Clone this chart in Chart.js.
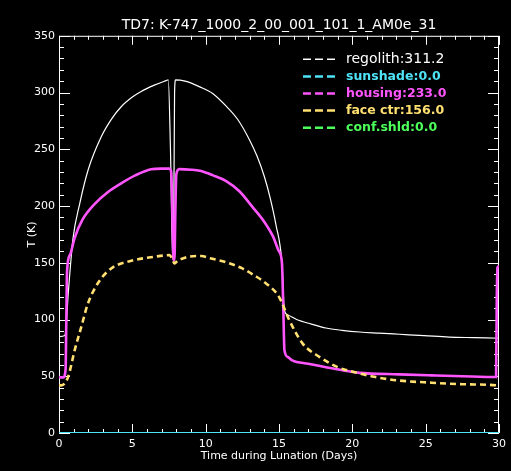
<!DOCTYPE html>
<html lang="en">
  <head>
    <meta charset="UTF-8" />
    <title>TD7 lunation temperatures</title>
    <style>
      html, body { margin: 0; padding: 0; background: #000; }
      #wrap { width: 511px; height: 471px; }
    </style>
  </head>
  <body>
    <div id="wrap">
      <canvas id="myChart"></canvas>
    </div>

    <script src="https://cdn.jsdelivr.net/npm/chart.js@4"></script>
    <script>
      // values (days, kelvin)
      const regolithDays = [0, 0.4, 0.5, 0.63, 0.74, 0.95, 1.41, 1.99, 2.88, 3.6, 4.24, 5.0, 5.6, 6.5, 7.3, 7.45, 7.6, 7.75, 7.82, 7.88, 7.95, 8.6, 9.6, 10.5, 11.4, 12.2, 13.0, 13.5, 14.0, 14.4, 14.8, 15.2, 15.37, 15.6, 16.2, 17.2, 18.2, 19.3, 20.5, 21.8, 23.2, 24.9, 26.6, 28.3, 30];
      const regolithTemps = [85, 86, 97, 123, 141, 171, 202, 232, 261, 277, 287.5, 296, 301, 306.5, 310.5, 311.2, 250, 153, 180, 300, 311.2, 310, 305, 299, 288, 276, 258, 244, 226, 207, 183, 150, 108, 104, 100, 96, 92.5, 90.5, 89, 88, 87, 85.8, 84.5, 84, 83.5];

      const housingDays = [0, 0.3, 0.45, 0.5, 0.55, 0.75, 1.07, 1.6, 2.44, 3.3, 4.24, 5.2, 6.28, 7.0, 7.5, 7.65, 7.72, 7.8, 7.87, 7.94, 8.0, 8.2, 9.0, 9.6, 10.5, 11.4, 12.3, 13.2, 14.0, 14.6, 15.0, 15.2, 15.3, 15.37, 15.6, 15.9, 17.0, 18.2, 19.4, 20.5, 23.2, 25.4, 27.5, 29.8, 29.85, 29.9, 30];
      const housingTemps = [49, 49, 56, 100, 143, 157, 172, 188, 202, 212, 220, 227, 232.4, 233, 233, 230, 200, 155, 152, 200, 228, 232.5, 232, 231, 227, 222, 213, 199, 186, 173, 160, 150, 106, 73, 67, 64, 61, 58, 55, 53, 51.7, 50.8, 50, 49.3, 120, 146, 147];

      const faceDays = [0, 0.16, 0.61, 1.07, 1.52, 1.97, 2.65, 3.56, 4.93, 6.51, 7.53, 7.7, 7.87, 8.1, 8.44, 8.9, 9.7, 10.3, 11.4, 12.5, 13.3, 14.1, 15.0, 15.7, 16.6, 17.8, 19.0, 20.5, 21.5, 23.0, 25.4, 27.5, 29.8, 30];
      const faceTemps = [42, 42, 49, 73, 93.5, 114, 132, 145, 151.7, 155.3, 156.7, 154, 149.4, 152, 153.8, 155.5, 156, 154, 150.5, 145, 139, 132, 120, 99.5, 79, 66.7, 58, 52.5, 49.5, 46.5, 44.3, 43, 42, 41.5];

      const sunshadeDays = [0, 30];
      const sunshadeTemps = [0, 0];
      const confDays = [0, 30];
      const confTemps = [0, 0];

      const legendLabels = ["regolith:311.2", "sunshade:0.0", "housing:233.0", "face ctr:156.0", "conf.shld:0.0"];
      const chartTitle = "TD7: K-747_1000_2_00_001_101_1_AM0e_31";

      const pts = (xs, ys) => xs.map((x, i) => ({ x: x, y: ys[i] }));

      // IDL style box with ticks pointing inwards
      const boxTicks = {
        id: "boxTicks",
        beforeDatasetsDraw(chart) {
          const { ctx, chartArea: a, scales } = chart;
          ctx.save();
          ctx.strokeStyle = "#fff";
          ctx.lineWidth = 1;
          ctx.strokeRect(a.left + 0.5, a.top + 0.5, a.right - a.left - 1, a.bottom - a.top - 1);
          ctx.beginPath();
          for (let v = 0; v <= 30; v++) {
            const px = Math.round(scales.x.getPixelForValue(v)) + 0.5;
            const len = v % 5 === 0 ? 9 : 4;
            ctx.moveTo(px, a.bottom); ctx.lineTo(px, a.bottom - len);
            ctx.moveTo(px, a.top); ctx.lineTo(px, a.top + len);
          }
          for (let v = 0; v <= 350; v += 10) {
            const py = Math.round(scales.y.getPixelForValue(v)) + 0.5;
            const len = v % 50 === 0 ? 11 : 5;
            ctx.moveTo(a.left, py); ctx.lineTo(a.left + len, py);
            ctx.moveTo(a.right, py); ctx.lineTo(a.right - len, py);
          }
          ctx.stroke();
          ctx.restore();
        },
      };

      // legend drawn inside the plot, top right
      const insideLegend = {
        id: "insideLegend",
        afterDraw(chart) {
          const { ctx, chartArea: a } = chart;
          const x0 = a.right - 196;
          const y0 = a.top + 23.5;
          ctx.save();
          ctx.textBaseline = "middle";
          chart.data.datasets.forEach((ds, i) => {
            const y = y0 + i * 17.1;
            ctx.strokeStyle = ds.borderColor;
            ctx.lineWidth = i === 0 ? 1.5 : 2.5;
            ctx.setLineDash([8, 4]);
            ctx.beginPath();
            ctx.moveTo(x0, y); ctx.lineTo(x0 + 32, y);
            ctx.stroke();
            ctx.setLineDash([]);
            ctx.fillStyle = ds.borderColor;
            ctx.font = i === 0 ? "14px 'DejaVu Sans'" : "bold 12.5px 'DejaVu Sans'";
            ctx.fillText(legendLabels[i], x0 + 43, y);
          });
          ctx.restore();
        },
      };

      const ctx = document.getElementById("myChart");

      const myChart = new Chart(ctx, {
        type: "line",
        data: {
          datasets: [
            { label: "regolith", data: pts(regolithDays, regolithTemps), borderColor: "#ffffff", borderWidth: 1.2, order: 5 },
            { label: "sunshade", data: pts(sunshadeDays, sunshadeTemps), borderColor: "#4fe3f7", borderWidth: 2, order: 1 },
            { label: "housing", data: pts(housingDays, housingTemps), borderColor: "#ff55ff", borderWidth: 2.6, order: 3 },
            { label: "face ctr", data: pts(faceDays, faceTemps), borderColor: "#ffe070", borderWidth: 2.6, borderDash: [6, 4], order: 2 },
            { label: "conf.shld", data: pts(confDays, confTemps), borderColor: "#4cff5a", borderWidth: 2, order: 4 },
          ],
        },
        options: {
          responsive: true,
          maintainAspectRatio: false,
          animation: false,
          events: [],
          layout: { padding: { left: 0, right: 11, top: 0, bottom: 0 } },
          elements: {
            point: { radius: 0 },
            line: { cubicInterpolationMode: "monotone", fill: false },
          },
          plugins: {
            legend: { display: false },
            tooltip: { enabled: false },
            title: {
              display: true,
              text: chartTitle,
              color: "#fff",
              fullSize: false,
              font: { family: "'DejaVu Sans'", size: 14, weight: "normal" },
              padding: { top: 17, bottom: 2 },
            },
          },
          scales: {
            x: {
              type: "linear",
              min: 0,
              max: 30,
              grid: { display: false, drawTicks: false },
              border: { display: false },
              ticks: { stepSize: 5, color: "#fff", padding: 5, maxRotation: 0, font: { family: "'DejaVu Sans'", size: 11 } },
              title: {
                display: true,
                text: "Time during Lunation (Days)",
                color: "#fff",
                font: { family: "'DejaVu Sans'", size: 11 },
                padding: { top: 0, bottom: 8 },
              },
              afterFit(scale) { scale.height = 38; },
            },
            y: {
              type: "linear",
              min: 0,
              max: 350,
              grid: { display: false, drawTicks: false },
              border: { display: false },
              ticks: { stepSize: 50, color: "#fff", padding: 4, font: { family: "'DejaVu Sans'", size: 11 } },
              title: {
                display: true,
                text: "T (K)",
                color: "#fff",
                font: { family: "'DejaVu Sans'", size: 11 },
                padding: { top: 26, bottom: 0 },
              },
              afterFit(scale) { scale.width = 59; },
            },
          },
        },
        plugins: [boxTicks, insideLegend],
      });
    </script>
  </body>
</html>
